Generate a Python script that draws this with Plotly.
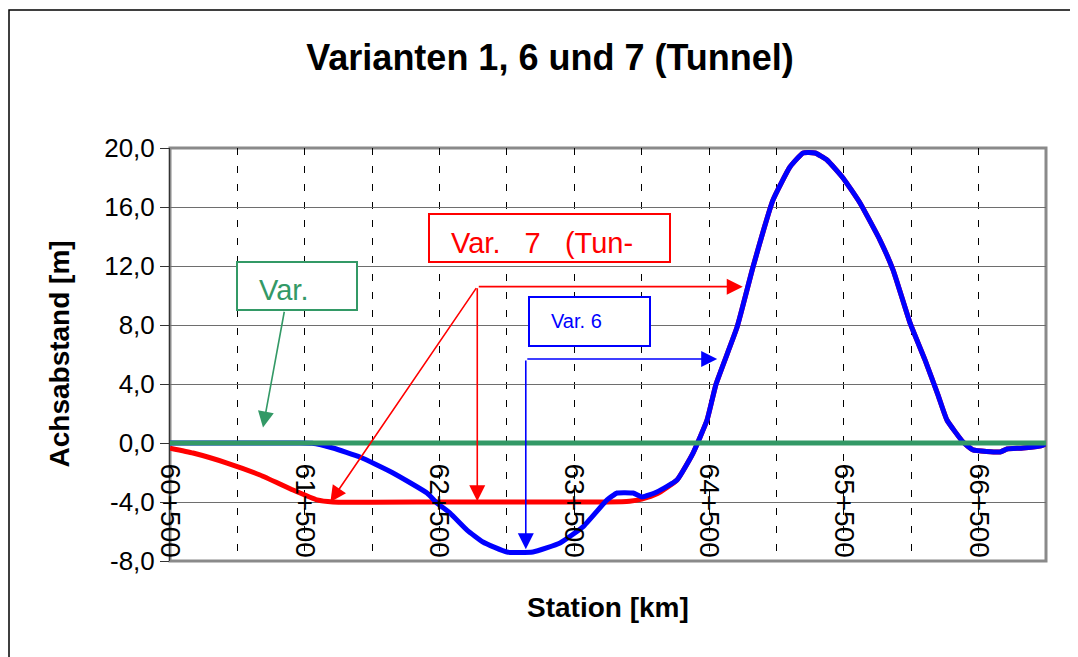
import plotly.graph_objects as go

# ---------------- data ----------------
var1_km = [60.5, 67.0]
var1_m = [0.0, 0.0]

var6_km = [60.5, 61.45, 61.554, 61.709, 61.910, 62.155, 62.407, 62.481, 62.578, 62.704,
           62.822, 63.000, 63.193, 63.394, 63.564, 63.743, 63.817, 63.936, 64.002, 64.113,
           64.262, 64.381, 64.485, 64.552, 64.708, 64.826, 64.974, 65.100, 65.197, 65.286,
           65.375, 65.494, 65.620, 65.768, 65.865, 65.991, 66.102, 66.199, 66.265, 66.384,
           66.458, 66.659, 66.711, 66.829, 66.978, 67.0]
var6_m = [0.0, 0.0, -0.02, -0.34, -0.95, -2.03, -3.39, -4.07, -4.75, -5.90,
          -6.71, -7.39, -7.39, -6.78, -5.69, -3.86, -3.39, -3.39, -3.66, -3.32,
          -2.51, -0.68, 1.56, 4.0, 7.86, 11.93, 16.47, 18.71, 19.66, 19.66,
          19.19, 17.97, 16.27, 13.76, 11.73, 8.14, 5.63, 3.25, 1.56, 0.07,
          -0.47, -0.61, -0.41, -0.34, -0.14, 0.0]

var7_km = [60.5, 60.671, 60.923, 61.168, 61.413, 61.591, 61.709, 62.5, 63.743, 63.91,
           64.0, 64.113, 64.262, 64.381, 64.485, 64.552, 64.708, 64.826, 64.974, 65.100,
           65.197, 65.286, 65.375, 65.494, 65.620, 65.768, 65.865, 65.991, 66.102, 66.199,
           66.265, 66.384, 66.458, 66.659, 66.711, 66.829, 66.978, 67.0]
var7_m = [-0.35, -0.68, -1.36, -2.17, -3.19, -3.86, -4.0, -4.0, -4.0, -3.95,
          -3.8, -3.45, -2.51, -0.68, 1.56, 4.0, 7.86, 11.93, 16.47, 18.71,
          19.66, 19.66, 19.19, 17.97, 16.27, 13.76, 11.73, 8.14, 5.63, 3.25,
          1.56, 0.07, -0.47, -0.61, -0.41, -0.34, -0.14, 0.0]

x_tick_vals = [60.5, 61.5, 62.5, 63.5, 64.5, 65.5, 66.5]
x_tick_text = ["60+500", "61+500", "62+500", "63+500", "64+500", "65+500", "66+500"]
x_minor_vals = [61.0, 62.0, 63.0, 64.0, 65.0, 66.0]
y_tick_vals = [-8, -4, 0, 4, 8, 12, 16, 20]
y_tick_text = ["-8,0", "-4,0", "0,0", "4,0", "8,0", "12,0", "16,0", "20,0"]
x_range = [60.5, 67.0]
y_range = [-8, 20]

title_text = "Varianten 1, 6 und 7 (Tunnel)"
x_title = "Station [km]"
y_title = "Achsabstand [m]"

RED = "#FF0000"
BLUE = "#0000FF"
GREEN = "#339966"
FONT = "Liberation Sans, Arial, sans-serif"

# ---------------- layout geometry (page pixels; the page body has an 8px margin) ----------------
O = 8
W, H = 1078 - O, 657 - O
L, R, T, B = 170 - O, 32, 148 - O, 96
PW, PH = W - L - R, H - T - B


def px(x):
    return (x - O - L) / PW


def py(y):
    return (O + T + PH - y) / PH


fig = go.Figure()
fig.add_trace(go.Scatter(x=var7_km, y=var7_m, mode="lines", name="Var. 7 (Tunnel)",
                         line=dict(color=RED, width=5, shape="spline", smoothing=0.4)))
fig.add_trace(go.Scatter(x=var6_km, y=var6_m, mode="lines", name="Var. 6",
                         line=dict(color=BLUE, width=5, shape="spline", smoothing=0.4)))
fig.add_trace(go.Scatter(x=var1_km, y=var1_m, mode="lines", name="Var. 1",
                         line=dict(color=GREEN, width=5)))

dash = "7px,11px"
fig.update_layout(
    width=W, height=H,
    margin=dict(l=L, r=R, t=T, b=B),
    paper_bgcolor="white", plot_bgcolor="white",
    showlegend=False,
    title=dict(text=title_text, x=(550 - O) / W, xanchor="center", xref="container",
               y=1 - (57 - O) / H, yanchor="middle", yref="container",
               font=dict(family=FONT, size=36, color="black", weight="bold")),
    xaxis=dict(range=x_range, anchor="free",
               position=(0 - y_range[0]) / (y_range[1] - y_range[0]),
               tickvals=x_tick_vals, ticktext=x_tick_text, tickangle=90,
               tickfont=dict(family=FONT, size=28, color="black"),
               ticks="outside", ticklen=14, tickcolor="rgba(0,0,0,0)",
               showgrid=True, gridcolor="black", gridwidth=1, griddash=dash,
               minor=dict(tickvals=x_minor_vals, showgrid=True, gridcolor="black",
                          gridwidth=1, griddash=dash, ticks=""),
               showline=False, zeroline=False),
    yaxis=dict(range=y_range, tickvals=y_tick_vals, ticktext=y_tick_text,
               tickfont=dict(family=FONT, size=26, color="black"),
               ticks="outside", ticklen=9, tickcolor="#333333",
               showline=True, linecolor="#333333", linewidth=1,
               showgrid=True, gridcolor="#6e6e6e", gridwidth=1.2, zeroline=False),
)

shapes = [
    # plot area border
    dict(type="rect", xref="paper", yref="paper", x0=0, x1=1, y0=0, y1=1,
         line=dict(color="#8a8a8a", width=3), layer="between"),
    # chart frame
    dict(type="rect", xref="paper", yref="paper", x0=px(9), x1=px(1110), y0=py(690), y1=py(10),
         line=dict(color="black", width=1.5)),
    # text boxes
    dict(type="rect", xref="paper", yref="paper", x0=px(237), x1=px(357), y0=py(310), y1=py(262),
         line=dict(color=GREEN, width=2), fillcolor="white", layer="above"),
    dict(type="rect", xref="paper", yref="paper", x0=px(429), x1=px(670), y0=py(262), y1=py(214),
         line=dict(color=RED, width=2), fillcolor="white", layer="above"),
    dict(type="rect", xref="paper", yref="paper", x0=px(529), x1=px(650), y0=py(346), y1=py(297),
         line=dict(color=BLUE, width=2), fillcolor="white", layer="above"),
]
fig.update_layout(shapes=shapes)

ann = [
    dict(text=x_title, xref="paper", yref="paper", x=0.5, y=py(607), xanchor="center",
         yanchor="middle", showarrow=False,
         font=dict(family=FONT, size=28, color="black", weight="bold")),
    dict(text=y_title, xref="paper", yref="paper", x=px(59), y=0.5, xanchor="center",
         yanchor="middle", textangle=-90, showarrow=False,
         font=dict(family=FONT, size=28, color="black", weight="bold")),
    dict(text="Var.", xref="paper", yref="paper", x=px(257), y=py(290), xanchor="left",
         yanchor="middle", showarrow=False, font=dict(family=FONT, size=29, color=GREEN)),
    dict(text="Var.\u00a0\u00a0 7\u00a0\u00a0 (Tun-", xref="paper", yref="paper", x=px(449), y=py(243),
         xanchor="left", yanchor="middle", showarrow=False,
         font=dict(family=FONT, size=29, color=RED)),
    dict(text="Var. 6", xref="paper", yref="paper", x=px(549), y=py(321), xanchor="left",
         yanchor="middle", showarrow=False, font=dict(family=FONT, size=20, color=BLUE)),
]


def arrow(tip, tail, color):
    return dict(x=tip[0], y=tip[1], ax=tail[0], ay=tail[1], xref="x", yref="y",
                axref="x", ayref="y", text="", showarrow=True, arrowhead=2,
                arrowsize=2, arrowwidth=1.6, arrowcolor=color, standoff=0, startstandoff=0)


red_hub = (62.78, 10.6)
blue_hub = (63.14, 5.7)
ann += [
    arrow((61.19, 1.05), (61.35, 9.0), GREEN),
    arrow((64.75, 10.6), red_hub, RED),
    arrow((61.69, -4.0), red_hub, RED),
    arrow((62.78, -3.95), red_hub, RED),
    arrow((64.56, 5.7), blue_hub, BLUE),
    arrow((63.14, -7.2), blue_hub, BLUE),
]
fig.update_layout(annotations=ann)

fig.write_html("out.html")
